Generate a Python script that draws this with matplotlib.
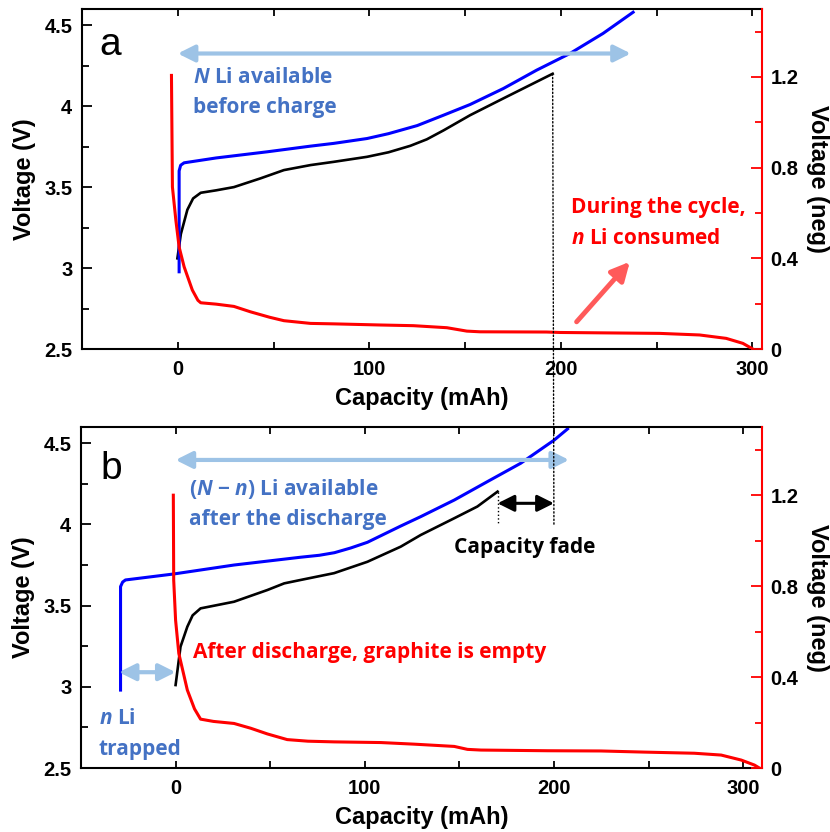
import matplotlib
matplotlib.use('Agg')
import matplotlib.pyplot as plt
from matplotlib.ticker import MultipleLocator
from matplotlib.patches import ConnectionPatch

plt.rcParams['font.family'] = ['Liberation Sans', 'DejaVu Sans']
plt.rcParams['mathtext.fontset'] = 'custom'
plt.rcParams['mathtext.it'] = 'Open Sans:italic:bold'
plt.rcParams['mathtext.rm'] = 'Open Sans:bold'

# panel a: full cell (black), positive electrode (blue), graphite (red, right axis)
cap_a_full = [-0.2, 1.6, 5, 8, 12, 20, 29.3, 43.2, 55.4, 69.3, 81.4, 98.8, 110, 121.4,
              130, 138.7, 152.6, 170, 195.7]
volt_a_full = [3.06, 3.21, 3.36, 3.43, 3.465, 3.48, 3.50, 3.554, 3.605, 3.636, 3.656, 3.687,
               3.715, 3.755, 3.795, 3.85, 3.944, 4.048, 4.20]
cap_a_pos = [0.7, 0.7, 1.5, 3.3, 20, 46.7, 69.3, 81.4, 98.8, 110, 125, 138.7, 152.6, 170,
             187.3, 204.7, 222, 237.7]
volt_a_pos = [2.977, 3.60, 3.635, 3.65, 3.68, 3.718, 3.753, 3.77, 3.80, 3.83, 3.88, 3.944,
              4.01, 4.109, 4.222, 4.325, 4.449, 4.58]
cap_a_neg = [-3.3, -2.8, -1, 0.7, 3.3, 7.6, 10.5, 12, 20, 29.3, 38, 48, 55.4, 69.3, 81.4,
             105.7, 123, 140.5, 150.9, 157.8, 192.5, 199.5, 251.6, 272.4, 286.3, 295, 300.2]
volt_a_neg = [1.207, 0.715, 0.568, 0.45, 0.363, 0.26, 0.215, 0.204, 0.198, 0.188, 0.164,
              0.14, 0.125, 0.113, 0.111, 0.106, 0.103, 0.094, 0.079, 0.076, 0.075, 0.073,
              0.069, 0.062, 0.047, 0.025, 0.0]

# panel b: after the discharge, positive curve shifted by trapped Li
cap_b_full = [0, 2.6, 6.2, 9, 13.2, 30.9, 48.5, 57.4, 66.1, 83.8, 101.4, 119, 129.6, 147.3,
              159.5, 170.2]
volt_b_full = [3.011, 3.247, 3.37, 3.44, 3.483, 3.524, 3.596, 3.637, 3.658, 3.70, 3.77, 3.863,
               3.935, 4.038, 4.11, 4.202]
cap_b_pos = [-29.1, -29.1, -28, -26.5, -0.9, 30.9, 66.1, 76, 84, 92.6, 101.4, 119, 129.6,
             147.3, 164.9, 182.5, 200.2, 207.2]
volt_b_pos = [2.98, 3.617, 3.645, 3.658, 3.695, 3.75, 3.798, 3.81, 3.826, 3.855, 3.89, 3.99,
              4.048, 4.15, 4.264, 4.377, 4.52, 4.588]
cap_b_neg = [-1.2, -1.0, 0, 1.7, 6.2, 10, 13.2, 20, 30.9, 39.7, 48.5, 59, 70, 83.8, 108.5,
             126, 147.3, 154.3, 161.4, 196.7, 224.9, 247.8, 274.2, 288.4, 299, 306, 308.6]
volt_b_neg = [1.2, 0.826, 0.65, 0.504, 0.343, 0.26, 0.215, 0.205, 0.196, 0.175, 0.15, 0.125,
              0.118, 0.115, 0.112, 0.105, 0.095, 0.082, 0.079, 0.076, 0.075, 0.070, 0.065,
              0.057, 0.035, 0.013, 0.0]

cap_full_before = 200     # capacity reached in panel a, marked in panel b
trapped = -30             # shift of the positive electrode curve
li_arrow_a = (0, 236.5, 4.325)
li_arrow_b = (0, 208, 4.397)

xlim_a = (-50, 305)
xlim_b = (-50, 310)

BLUE_TXT = '#4472C4'
LIGHT_BLUE = '#9DC3E6'
TXT_FONT = 'Open Sans'
TXT_SIZE = 15


def setup_axes(ax, xlim):
    ax.set_xlim(*xlim)
    ax.set_ylim(2.5, 4.6)
    ax.set_xticks([0, 100, 200, 300])
    ax.set_yticks([2.5, 3, 3.5, 4, 4.5])
    ax.set_yticklabels(['2.5', '3', '3.5', '4', '4.5'])
    ax.xaxis.set_minor_locator(MultipleLocator(50))
    ax.yaxis.set_minor_locator(MultipleLocator(0.25))
    ax.tick_params(axis='both', which='both', direction='in', top=True, right=False,
                   width=1.3, labelsize=14.5)
    ax.tick_params(axis='x', which='both', length=5, pad=8)
    ax.tick_params(axis='y', which='major', length=7, pad=7)
    ax.tick_params(axis='y', which='minor', length=5)
    for t in ax.get_xticklabels() + ax.get_yticklabels():
        t.set_fontweight('bold')
    for s in ['left', 'top', 'bottom']:
        ax.spines[s].set_linewidth(1.5)
    ax.spines['right'].set_visible(False)
    ax.set_xlabel('Capacity (mAh)', fontsize=17, labelpad=6, fontweight='bold')
    ax.set_ylabel('Voltage (V)', fontsize=17, labelpad=6, fontweight='bold')

    ax2 = ax.twinx()
    ax2.set_ylim(0, 1.5)
    ax2.set_yticks([0, 0.4, 0.8, 1.2])
    ax2.set_yticklabels(['0', '0.4', '0.8', '1.2'], fontweight='bold')
    ax2.yaxis.set_minor_locator(MultipleLocator(0.2))
    ax2.tick_params(axis='y', which='both', direction='in', color='red', width=1.3,
                    labelsize=14.5, pad=6)
    ax2.tick_params(axis='y', which='major', length=8)
    ax2.tick_params(axis='y', which='minor', length=5)
    for s in ['left', 'top', 'bottom']:
        ax2.spines[s].set_visible(False)
    ax2.spines['right'].set_color('red')
    ax2.spines['right'].set_linewidth(1.5)
    ax2.set_ylabel('Voltage (neg)', fontsize=17, rotation=270, labelpad=22, fontweight='bold')
    return ax2


def arrow(ax, base, start, end, color, style, lw, ms):
    ax.annotate('', xy=end, xycoords=base.transData, xytext=start, textcoords=base.transData,
                arrowprops=dict(arrowstyle=style, color=color, lw=lw, mutation_scale=ms,
                                shrinkA=0, shrinkB=0), zorder=5)


def label(ax, base, x, y, s, color, **kw):
    ax.text(x, y, s, transform=base.transData, color=color, fontsize=TXT_SIZE,
            family=TXT_FONT, fontweight='bold', va='baseline', zorder=6, **kw)


fig = plt.figure(figsize=(8.3, 8.32), dpi=100)
ax_a = fig.add_axes([0.0988, 0.5805, 0.8193, 0.4087])
ax_b = fig.add_axes([0.0976, 0.0769, 0.8205, 0.4099])

# ---- panel a ----
ax_a2 = setup_axes(ax_a, xlim_a)
ax_a.plot(cap_a_full, volt_a_full, color='black', lw=1.9)
ax_a.plot(cap_a_pos, volt_a_pos, color='#0000FF', lw=2.2)
ax_a2.plot(cap_a_neg, volt_a_neg, color='#FF0000', lw=2.2)

ax_a.text(0.025, 0.865, 'a', transform=ax_a.transAxes, fontsize=28, va='baseline')
arrow(ax_a2, ax_a, (li_arrow_a[0], li_arrow_a[2]), (li_arrow_a[1], li_arrow_a[2]),
      LIGHT_BLUE, '<|-|>,head_length=1.0,head_width=0.5', 3, 10)
label(ax_a2, ax_a, 8.2, 4.144, '$N$ Li available', BLUE_TXT)
label(ax_a2, ax_a, 8.2, 3.955, 'before charge', BLUE_TXT)
label(ax_a2, ax_a, 205.2, 3.338, 'During the cycle,', '#FF0000')
label(ax_a2, ax_a, 205.2, 3.146, '$n$ Li consumed', '#FF0000')
arrow(ax_a2, ax_a, (208.2, 2.668), (236, 3.039), '#FF5A5A',
      '-|>,head_length=1.1,head_width=0.55', 3.5, 10)

# ---- panel b ----
ax_b2 = setup_axes(ax_b, xlim_b)
ax_b.plot(cap_b_full, volt_b_full, color='black', lw=1.9)
ax_b.plot(cap_b_pos, volt_b_pos, color='#0000FF', lw=2.2)
ax_b2.plot(cap_b_neg, volt_b_neg, color='#FF0000', lw=2.2)

ax_b.text(0.028, 0.8475, 'b', transform=ax_b.transAxes, fontsize=28, va='baseline')
arrow(ax_b2, ax_b, (li_arrow_b[0], li_arrow_b[2]), (li_arrow_b[1], li_arrow_b[2]),
      LIGHT_BLUE, '<|-|>,head_length=1.0,head_width=0.5', 3, 10)
label(ax_b2, ax_b, 7.0, 4.18, '($N$ − $n$) Li available', BLUE_TXT)
label(ax_b2, ax_b, 7.0, 3.997, 'after the discharge', BLUE_TXT)
label(ax_b2, ax_b, 9.4, 3.18, 'After discharge, graphite is empty', '#FF0000')
label(ax_b2, ax_b, -40.6, 2.77, '$n$ Li', BLUE_TXT)
label(ax_b2, ax_b, -40.6, 2.58, 'trapped', BLUE_TXT)
arrow(ax_b2, ax_b, (trapped, 3.09), (0, 3.09), LIGHT_BLUE,
      '<|-|>,head_length=1.0,head_width=0.5', 3, 10)

# capacity fade between end of the new charge and the previous one
fade_y = 4.13
ax_b.plot([cap_b_full[-1], cap_b_full[-1]], [volt_b_full[-1], 4.0], color='black', lw=1,
          ls=':')
arrow(ax_b2, ax_b, (cap_b_full[-1], fade_y), (cap_full_before, fade_y), 'black',
      '<|-|>,head_length=1.0,head_width=0.5', 2.2, 10)
label(ax_b2, ax_b, (cap_b_full[-1] + cap_full_before) / 2 - 0.5, 3.825, 'Capacity fade',
      'black', ha='center')

# dotted guide from end of charge in a down into b
con = ConnectionPatch(xyA=(cap_a_full[-1], volt_a_full[-1]), coordsA=ax_a.transData,
                      xyB=(cap_full_before, 4.0), coordsB=ax_b.transData,
                      color='black', lw=1, ls=':')
fig.add_artist(con)

fig.savefig('out.png', dpi=100)
